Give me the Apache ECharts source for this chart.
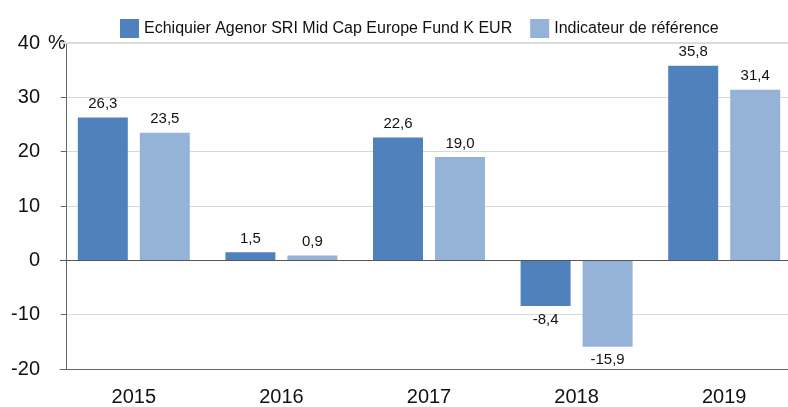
<!DOCTYPE html>
<html>
<head>
<meta charset="utf-8">
<script src="https://cdn.jsdelivr.net/npm/echarts@6/dist/echarts.min.js"></script>
<style>
  html, body { margin: 0; padding: 0; background: #fff; overflow: hidden; }
  #main { width: 798px; height: 407px; }
</style>
</head>
<body>
<div id="main"></div>
<script>
// données du graphique
var years = ['2015', '2016', '2017', '2018', '2019'];
var fundName = 'Echiquier Agenor SRI Mid Cap Europe Fund K EUR';
var benchName = 'Indicateur de référence';
var fundValues = [26.3, 1.5, 22.6, -8.4, 35.8];
var benchValues = [23.5, 0.9, 19.0, -15.9, 31.4];

var FONT = 'Liberation Sans, Arial, sans-serif';
var myChart = echarts.init(document.getElementById('main'));

function fmt(v) {
  return v.toFixed(1).replace('.', ',');
}

function barLabel() {
  return {
    show: true,
    position: 'top',
    distance: 6,
    color: '#111',
    fontSize: 15,
    fontFamily: FONT,
    formatter: function (p) { return fmt(p.value); }
  };
}

function toItems(arr) {
  // valeurs négatives : étiquette sous la barre
  return arr.map(function (v) {
    var item = { value: v };
    if (v < 0) item.label = { position: 'bottom' };
    return item;
  });
}

option = {
  animation: false,
  textStyle: { fontFamily: FONT },
  legend: {
    left: 115,
    top: 14,
    icon: 'rect',
    itemWidth: 19,
    itemHeight: 19,
    itemGap: 18,
    textStyle: { fontSize: 16, color: '#111', fontFamily: FONT },
    data: [fundName, benchName]
  },
  // la zone de tracé dépasse un peu le bord droit de l'image
  grid: { left: 60, right: 0, top: 43, bottom: 37 },
  xAxis: {
    type: 'category',
    data: years,
    axisLine: { onZero: false, lineStyle: { color: '#666', width: 1 } },
    axisTick: { alignWithLabel: true, length: 5, lineStyle: { color: '#666' } },
    axisLabel: { fontSize: 20, color: '#111', margin: 18, fontFamily: FONT }
  },
  yAxis: {
    type: 'value',
    min: -20,
    max: 40,
    interval: 10,
    offset: -6,
    axisLine: { show: true, lineStyle: { color: '#666' } },
    axisTick: { show: true, length: 5, lineStyle: { color: '#666' } },
    axisLabel: { fontSize: 20, color: '#111', margin: 26, fontFamily: FONT },
    splitLine: { lineStyle: { color: '#d9d9d9' } }
  },
  graphic: [{
    type: 'text',
    left: 48,
    top: 33,
    style: { text: '%', fontSize: 20, fill: '#111', fontFamily: FONT }
  }],
  series: [{
    name: fundName,
    type: 'bar',
    barWidth: 50,
    barGap: '24%',
    itemStyle: { color: '#4f81bd' },
    label: barLabel(),
    data: toItems(fundValues),
    markLine: {
      silent: true,
      symbol: 'none',
      label: { show: false },
      data: [
        { yAxis: 0, lineStyle: { color: '#555', width: 1, type: 'solid' } },
        { yAxis: 40, lineStyle: { color: '#dcdcdc', width: 2, type: 'solid' } }
      ]
    }
  }, {
    name: benchName,
    type: 'bar',
    barWidth: 50,
    itemStyle: { color: '#95b3d7' },
    label: barLabel(),
    data: toItems(benchValues)
  }]
};

myChart.setOption(option);
</script>
</body>
</html>
